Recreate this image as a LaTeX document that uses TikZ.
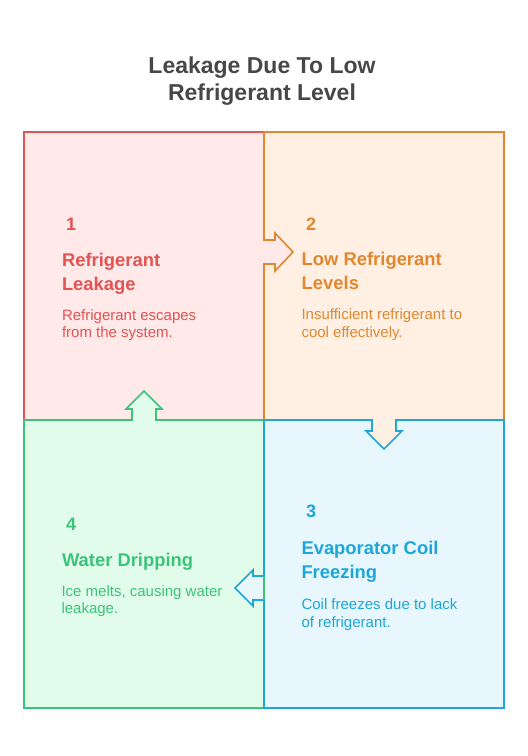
\documentclass[tikz,border=0pt]{standalone}
\usepackage{fontspec}
\setmainfont{Liberation Sans}
\usetikzlibrary{calc}

\definecolor{titlegray}{HTML}{474747}
\definecolor{leakred}{HTML}{E25353}
\definecolor{leakredbg}{HTML}{FFE9E9}
\definecolor{loworange}{HTML}{E0872F}
\definecolor{loworangebg}{HTML}{FFF0E3}
\definecolor{coilblue}{HTML}{1DA6D7}
\definecolor{coilbluebg}{HTML}{E8F7FE}
\definecolor{dripgreen}{HTML}{3CC37B}
\definecolor{dripgreenbg}{HTML}{E2FCEC}

\begin{document}
\begin{tikzpicture}[x=1pt, y=-1pt,
  every node/.style = {inner sep=0pt, outer sep=0pt},
  quad/.style = {rectangle, minimum width=240pt, minimum height=288pt,
    line width=1.6pt},
  num/.style = {anchor=base west, font=\fontsize{18}{24}\selectfont\bfseries},
  head/.style = {anchor=north west, align=left,
    font=\fontsize{18.4}{24}\selectfont\bfseries},
  desc/.style = {anchor=north west, align=left,
    font=\fontsize{15}{17.5}\selectfont},
  edge/.style = {line width=1.6pt, line join=miter}]
  \useasboundingbox (0,0) rectangle (528,756);

  % title
  \node[anchor=north, align=center, text=titlegray,
    font=\fontsize{23}{27}\selectfont\bfseries] (title) at (262,56.5)
    {Leakage Due To Low\\Refrigerant Level};

  % the four quadrants, later ones paint the shared borders
  \node[quad, fill=leakredbg, draw=leakred] (q1) at (144,276) {};
  \node[quad, fill=loworangebg, draw=loworange] (q2) at (384,276) {};
  \node[quad, fill=dripgreenbg, draw=dripgreen] (q4) at (144,564) {};
  \node[quad, fill=coilbluebg, draw=coilblue] (q3) at (384,564) {};

  % arrow 1 -> 2
  \fill[leakredbg] (262,240) -- (275,240) -- (275,233) -- (293,252)
    -- (275,271) -- (275,264) -- (262,264) -- cycle;
  \draw[edge, loworange] (264,232) -- (264,240) -- (275,240) -- (275,233)
    -- (293,252) -- (275,271) -- (275,264) -- (264,264) -- (264,272);
  % arrow 2 -> 3
  \fill[loworangebg] (372,418) -- (372,431) -- (366,431) -- (384,449)
    -- (402,431) -- (396,431) -- (396,418) -- cycle;
  \draw[edge, coilblue] (364,420) -- (372,420) -- (372,431) -- (366,431)
    -- (384,449) -- (402,431) -- (396,431) -- (396,420) -- (404,420);
  % arrow 3 -> 4
  \fill[coilbluebg] (264,576) -- (253,576) -- (253,570) -- (235,588)
    -- (253,606) -- (253,600) -- (264,600) -- cycle;
  \draw[edge, coilblue] (264,568) -- (264,576) -- (253,576) -- (253,570)
    -- (235,588) -- (253,606) -- (253,600) -- (264,600) -- (264,608);
  \draw[edge, dripgreen] (264,576) -- (264,600);
  % arrow 4 -> 1
  \fill[dripgreenbg] (132,422) -- (132,409) -- (126,409) -- (144,391)
    -- (162,409) -- (156,409) -- (156,422) -- cycle;
  \draw[edge, dripgreen] (124,420) -- (132,420) -- (132,409) -- (126,409)
    -- (144,391) -- (162,409) -- (156,409) -- (156,420) -- (164,420);

  % texts
  \node[num, text=leakred] (n1) at (66,230) {1};
  \node[head, text=leakred] (h1) at (62,253) {Refrigerant\\Leakage};
  \node[desc, text=leakred] (d1) at (62,309.5)
    {Refrigerant escapes\\from the system.};

  \node[num, text=loworange] (n2) at (306,230) {2};
  \node[head, text=loworange] (h2) at (301.7,252) {Low Refrigerant\\Levels};
  \node[desc, text=loworange] (d2) at (301.5,309)
    {Insufficient refrigerant to\\cool effectively.};

  \node[num, text=coilblue] (n3) at (306,517) {3};
  \node[head, text=coilblue] (h3) at (301.5,541) {Evaporator Coil\\Freezing};
  \node[desc, text=coilblue] (d3) at (301.5,599)
    {Coil freezes due to lack\\of refrigerant.};

  \node[num, text=dripgreen] (n4) at (66,530) {4};
  \node[head, text=dripgreen] (h4) at (62,553.6) {Water Dripping};
  \node[desc, text=dripgreen] (d4) at (61.5,585.5)
    {Ice melts, causing water\\leakage.};
\end{tikzpicture}
\end{document}
